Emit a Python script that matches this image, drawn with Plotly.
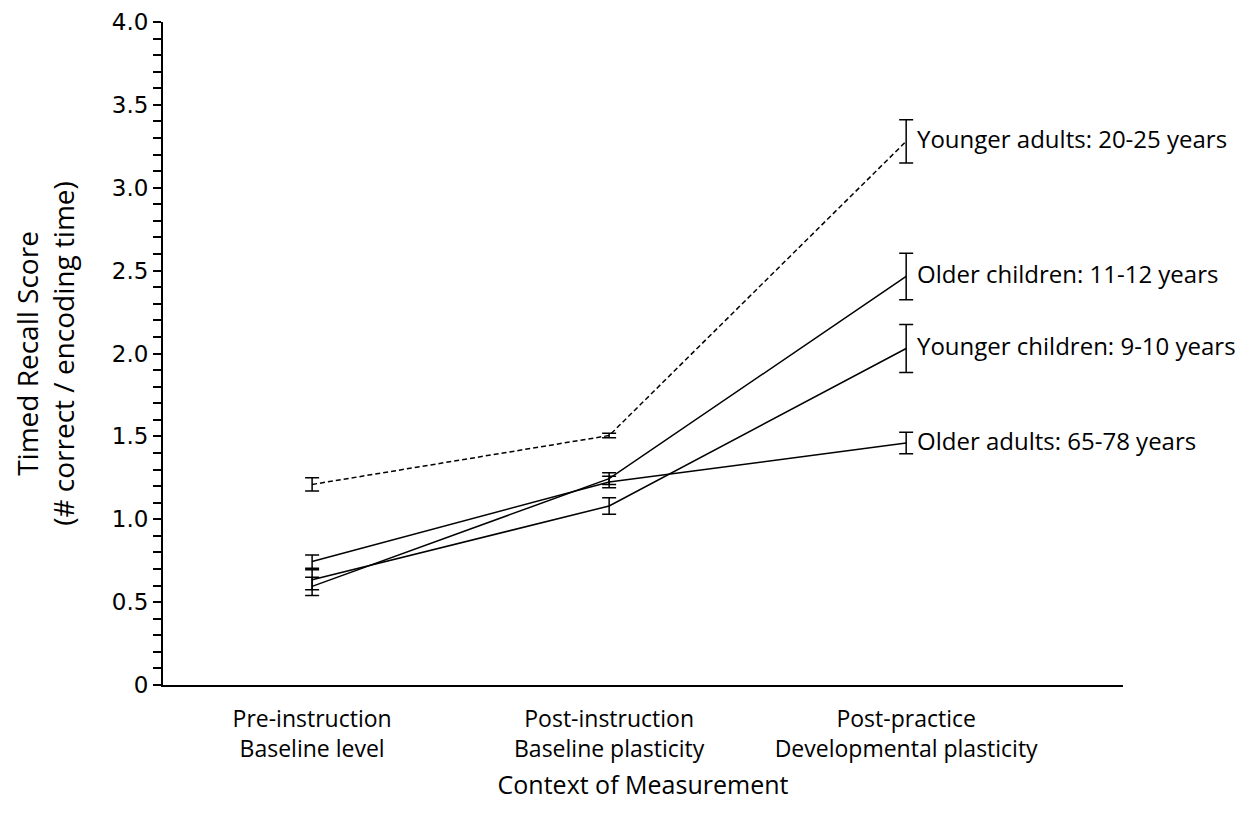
import plotly.graph_objects as go

categories = ["Pre-instruction<br>Baseline level",
              "Post-instruction<br>Baseline plasticity",
              "Post-practice<br>Developmental plasticity"]
x_pos = [0, 1, 2]

groups = ["Younger adults: 20-25 years",
          "Older children: 11-12 years",
          "Younger children: 9-10 years",
          "Older adults: 65-78 years"]

younger_adults = [1.21, 1.505, 3.28]
younger_adults_err = [0.04, 0.014, 0.13]
older_children = [0.595, 1.245, 2.465]
older_children_err = [0.055, 0.035, 0.14]
younger_children = [0.635, 1.08, 2.03]
younger_children_err = [0.06, 0.05, 0.145]
older_adults = [0.745, 1.225, 1.46]
older_adults_err = [0.04, 0.035, 0.065]

series = [
    (groups[0], younger_adults, younger_adults_err, "5px,3px"),
    (groups[1], older_children, older_children_err, "solid"),
    (groups[2], younger_children, younger_children_err, "solid"),
    (groups[3], older_adults, older_adults_err, "solid"),
]

y_tickvals = [0, 0.5, 1.0, 1.5, 2.0, 2.5, 3.0, 3.5, 4.0]
y_ticktext = ["0", "0.5", "1.0", "1.5", "2.0", "2.5", "3.0", "3.5", "4.0"]

label_font = "Open Sans, Noto Sans, sans-serif"

fig = go.Figure()
for name, vals, errs, dash in series:
    fig.add_trace(go.Scatter(
        x=x_pos, y=vals, mode="lines", name=name,
        line=dict(color="black", width=1.5, dash=dash),
        error_y=dict(type="data", array=errs, visible=True,
                     color="black", thickness=1.5, width=7),
        showlegend=False, hoverinfo="skip"))
    fig.add_annotation(x=x_pos[-1], y=vals[-1], text=name, showarrow=False,
                       xanchor="left", yanchor="middle", xshift=9, yshift=3,
                       font=dict(family=label_font, size=24, color="black"))

fig.update_layout(
    width=1253, height=829,
    margin=dict(l=155, r=138, t=14, b=152, autoexpand=False),
    paper_bgcolor="white", plot_bgcolor="white",
    font=dict(family=label_font, color="black"),
)
fig.update_xaxes(
    range=[-0.502, 2.73], tickvals=x_pos, ticktext=categories,
    showline=True, linecolor="black", linewidth=2, ticks="",
    showgrid=False, zeroline=False, automargin=False,
    tickfont=dict(family=label_font, size=23, color="black"),
    ticklabelstandoff=12,
    title=dict(text="Context of Measurement", standoff=14,
               font=dict(family=label_font, size=25, color="black")),
)
fig.update_yaxes(
    range=[0, 4.0], tickvals=y_tickvals, ticktext=y_ticktext,
    showline=True, linecolor="black", linewidth=2,
    ticks="outside", ticklen=8, tickwidth=2, tickcolor="black",
    minor=dict(dtick=0.1, ticks="outside", ticklen=8, tickwidth=2, tickcolor="black"),
    showgrid=False, zeroline=False, automargin=False,
    tickfont=dict(family="DejaVu Sans, Liberation Sans, sans-serif", size=23, color="black"),
    title=dict(text="Timed Recall Score<br>(# correct / encoding time)", standoff=30,
               font=dict(family=label_font, size=28, color="black")),
)

fig.write_html("out.html")
